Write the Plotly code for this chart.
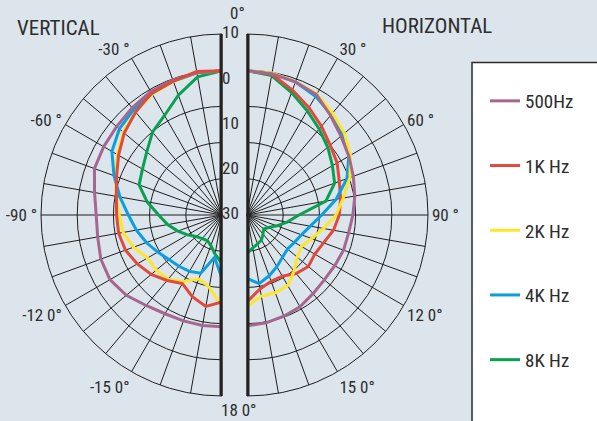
import plotly.graph_objects as go

# ---------------- data ----------------
ANGLES = [0, 10, 20, 30, 40, 50, 60, 70, 80, 90, 100, 110, 120, 130, 140, 150, 160, 170, 180]
RINGS = [-22, -14, -6, 2]          # inner grid rings (dB); outer ring = +10
R_LABEL_VALUES = [10, 0, -10, -20, -30]
R_LABEL_TEXT = ["10", "0", "10", "20", "30"]

SERIES = ["500Hz", "1K Hz", "2K Hz", "4K Hz", "8K Hz"]
COLORS = ["#a5668f", "#e04a3c", "#fde62a", "#0a9fe0", "#0aa052"]

# VERTICAL (left half), dB vs angle
V_500 = [1.9, 1.9, 1.8, 1.5, 0.9, 0.4, 0.2, 0.0, -1.4, -2.2, -2.1, -1.5, -1.4, -2.4, -3.9, -4.8, -5.1, -5.2, -5.3]
V_1K = [1.9, 2.2, 1.5, 1.1, -0.3, -1.8, -3.6, -5.2, -6.3, -6.7, -6.8, -7.3, -8.4, -9.6, -11.1, -12.5, -10.8, -9.5, -10.8]
V_2K = [1.9, 1.9, 1.4, 0.8, -0.2, -1.5, -3.3, -5.0, -6.3, -7.3, -7.8, -9.2, -11.0, -11.0, -11.5, -13.0, -15.0, -13.8, -9.8]
V_4K = [1.9, 1.9, 1.5, 1.0, 0.4, -0.4, -1.9, -4.6, -7.1, -9.3, -10.8, -12.2, -13.6, -14.7, -15.2, -15.6, -16.3, -20.5, -16.0]
V_8K = [1.9, 1.0, -1.8, -4.6, -6.1, -8.3, -9.7, -10.5, -13.2, -16.0, -17.8, -19.6, -21.2, -22.6, -23.2, -23.5, -22.8, -21.2, -19.3]
V_8K_TAIL_ANGLES = [190, 200]
V_8K_TAIL = [-21.5, -22.9]

# HORIZONTAL (right half), dB vs angle
H_500 = [1.9, 1.7, 1.3, 0.7, -1.3, -2.9, -4.0, -5.0, -5.8, -6.6, -7.2, -7.3, -7.6, -7.7, -7.3, -6.6, -6.2, -5.8, -5.5]
H_1K = [1.9, 1.6, -0.6, -2.6, -4.4, -6.0, -7.0, -8.3, -9.0, -9.6, -10.6, -12.0, -12.7, -12.3, -13.1, -14.4, -14.4, -13.4, -10.8]
H_2K = [1.9, 1.9, 1.3, 0.9, -0.6, -1.9, -3.6, -5.8, -8.4, -10.3, -12.8, -14.8, -16.1, -15.5, -13.8, -12.0, -11.7, -11.8, -9.8]
H_4K = [1.9, 1.8, 1.3, 0.3, -1.0, -2.4, -4.0, -6.5, -10.0, -13.5, -15.8, -17.2, -17.9, -18.3, -17.8, -16.8, -15.7, -14.6, -16.0]
H_8K = [1.9, 1.3, -1.2, -3.4, -5.2, -6.7, -8.2, -9.4, -12.3, -18.5, -21.0, -23.0, -24.5, -25.2, -24.5, -23.6, -23.2, -22.6, -21.5]

V_TICKTEXT = {30: "-30 °", 60: "-60 °", 90: "-90 °", 120: "-12 0°", 150: "-15 0°"}
H_TICKTEXT = {30: "30 °", 60: "60 °", 90: "90 °", 120: "12 0°", 150: "15 0°"}

FONT = "Liberation Sans Narrow, Arial Narrow, Roboto Condensed, Liberation Sans, sans-serif"
TXT = "#2d2d2d"
GRID = "#1e1e1e"
BG = "#dce4ec"

V_DATA = [V_500, V_1K, V_2K, V_4K, V_8K]
H_DATA = [H_500, H_1K, H_2K, H_4K, H_8K]

fig = go.Figure()

# left (vertical) curves, draw order
for i in [4, 2, 3, 0, 1]:
    th = list(ANGLES)
    rr = list(V_DATA[i])
    if i == 4:
        th += V_8K_TAIL_ANGLES
        rr += V_8K_TAIL
    fig.add_trace(go.Scatterpolar(
        r=rr, theta=th, mode="lines", subplot="polar",
        line=dict(color=COLORS[i], width=3), showlegend=False,
        cliponaxis=False, hoverinfo="skip"))

# right (horizontal) curves
for i in [4, 1, 3, 2, 0]:
    fig.add_trace(go.Scatterpolar(
        r=H_DATA[i], theta=ANGLES, mode="lines", subplot="polar2",
        line=dict(color=COLORS[i], width=3), name=SERIES[i],
        legendgroup=SERIES[i], legendrank=i + 1, showlegend=True,
        cliponaxis=False, hoverinfo="skip"))

# thick centre bars
for sp in ["polar", "polar2"]:
    fig.add_trace(go.Scatterpolar(
        r=[10, -30, 10], theta=[0, 0, 180], mode="lines", subplot=sp,
        line=dict(color="#26241f", width=5), showlegend=False,
        cliponaxis=False, hoverinfo="skip"))

# radial scale labels between the bars
fig.add_trace(go.Scatterpolar(
    r=R_LABEL_VALUES, theta=[0] * len(R_LABEL_VALUES), mode="text",
    text=R_LABEL_TEXT, textposition="middle right", subplot="polar",
    textfont=dict(family=FONT, size=17, color=TXT),
    showlegend=False, cliponaxis=False, hoverinfo="skip"))


def polar_cfg(xdom, sector, direction, labels):
    return dict(
        domain=dict(x=xdom, y=[0.0594, 0.9192]),
        sector=sector,
        bgcolor="rgba(0,0,0,0)",
        gridshape="linear",
        radialaxis=dict(range=[-30, 10], tickmode="array", tickvals=RINGS,
                        showticklabels=False, ticks="", showline=False,
                        gridcolor=GRID, gridwidth=1),
        angularaxis=dict(rotation=90, direction=direction, tickmode="array",
                         tickvals=ANGLES,
                         ticktext=[labels.get(a, "") for a in ANGLES],
                         showline=True, linecolor=GRID, linewidth=1,
                         gridcolor=GRID, gridwidth=1, ticks="",
                         tickfont=dict(family=FONT, size=17, color=TXT)),
    )


fig.update_layout(
    width=597, height=421,
    margin=dict(l=0, r=0, t=0, b=0),
    paper_bgcolor=BG, plot_bgcolor=BG,
    polar=polar_cfg([41 / 597, 222 / 597], [90, 270], "counterclockwise", V_TICKTEXT),
    polar2=polar_cfg([247 / 597, 428 / 597], [-90, 90], "clockwise", H_TICKTEXT),
    showlegend=True,
    legend=dict(x=485 / 597, y=(421 - 82) / 421, xanchor="left", yanchor="top",
                bgcolor="rgba(0,0,0,0)", borderwidth=0,
                font=dict(family=FONT, size=19, color=TXT),
                tracegroupgap=37, itemwidth=30, traceorder="grouped"),
    shapes=[dict(type="rect", xref="paper", yref="paper",
                 x0=472 / 597, x1=1.05, y0=-0.05, y1=(421 - 62.5) / 421,
                 fillcolor="white", line=dict(color="#2d2d2d", width=1.5),
                 layer="below")],
    annotations=[
        dict(text="VERTICAL", x=15 / 597, y=(421 - 28) / 421, xref="paper", yref="paper",
             xanchor="left", yanchor="middle", showarrow=False,
             font=dict(family=FONT, size=21, color=TXT)),
        dict(text="HORIZONTAL", x=380 / 597, y=(421 - 26) / 421, xref="paper", yref="paper",
             xanchor="left", yanchor="middle", showarrow=False,
             font=dict(family=FONT, size=21, color=TXT)),
        dict(text="0°", x=237 / 597, y=(421 - 13) / 421, xref="paper", yref="paper",
             xanchor="center", yanchor="middle", showarrow=False,
             font=dict(family=FONT, size=17, color=TXT)),
        dict(text="18 0°", x=239 / 597, y=(421 - 410) / 421, xref="paper", yref="paper",
             xanchor="center", yanchor="middle", showarrow=False,
             font=dict(family=FONT, size=17, color=TXT)),
    ],
)

fig.write_html("out.html", config={"displayModeBar": False},
               post_script="document.body.style.margin='0';document.body.style.overflow='hidden';")
